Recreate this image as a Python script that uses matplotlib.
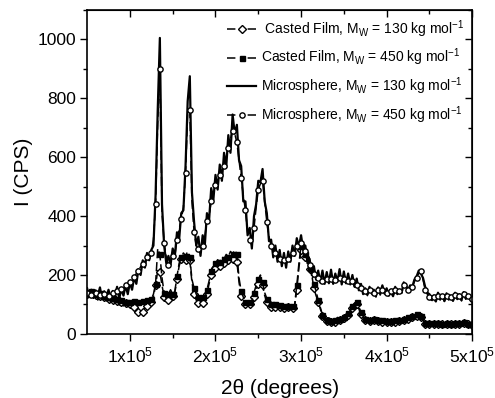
import numpy as np
import matplotlib
matplotlib.use("Agg")
import matplotlib.pyplot as plt
from matplotlib.ticker import MultipleLocator, FixedLocator

plt.rcParams['font.family'] = ['Liberation Sans', 'DejaVu Sans']
plt.rcParams['mathtext.fontset'] = 'custom'
plt.rcParams['mathtext.rm'] = 'Liberation Sans'
plt.rcParams['mathtext.it'] = 'Liberation Sans:italic'

# 2theta sampling, 50e3 .. 500e3 every 2.5e3
two_theta = np.arange(50, 502.5, 2.5) * 1e3

# casted film, Mw = 130 kg/mol (open diamonds)
cf130 = [135, 130, 138, 122, 132, 115, 128, 120, 125, 112,
         118, 108, 115, 100, 112, 98, 108, 95, 105, 92,
         100, 95, 90, 80, 75, 78, 75, 88, 95, 100,
         110, 125, 165, 215, 210, 165, 125, 110, 115, 130,
         128, 140, 185, 230, 255, 260, 250, 265, 250, 175,
         135, 115, 105, 100, 105, 108, 135, 170, 200, 215,
         225, 235, 230, 245, 240, 255, 250, 265, 255, 262,
         245, 175, 130, 112, 100, 95, 100, 105, 125, 150,
         170, 185, 165, 130, 110, 100, 92, 88, 92, 85,
         90, 85, 88, 82, 90, 85, 88, 95, 150, 225,
         285, 280, 260, 240, 220, 200, 155, 130, 110, 85,
         60, 48, 44, 50, 40, 48, 42, 52, 46, 52,
         55, 58, 65, 75, 88, 100, 102, 85, 68, 55,
         48, 40, 45, 38, 46, 40, 44, 38, 42, 36,
         42, 36, 40, 35, 42, 38, 45, 42, 48, 50,
         52, 55, 58, 60, 62, 60, 58, 45, 35, 30,
         34, 28, 32, 26, 34, 28, 32, 25, 32, 28,
         32, 26, 35, 28, 33, 25, 36, 30, 32, 28,
         30]

# casted film, Mw = 450 kg/mol (filled squares)
cf450 = [140, 125, 145, 128, 135, 120, 140, 125, 130, 118,
         125, 115, 122, 110, 118, 108, 115, 105, 110, 102,
         108, 100, 112, 102, 110, 98, 112, 105, 115, 108,
         118, 135, 170, 290, 270, 190, 140, 120, 135, 150,
         135, 145, 195, 240, 260, 275, 265, 280, 260, 185,
         155, 135, 125, 120, 125, 118, 150, 180, 215, 230,
         240, 252, 245, 262, 255, 270, 262, 280, 272, 285,
         270, 190, 145, 125, 110, 105, 108, 112, 140, 165,
         185, 200, 175, 140, 120, 108, 100, 95, 100, 92,
         98, 90, 95, 88, 96, 90, 95, 100, 165, 240,
         300, 290, 270, 250, 225, 215, 170, 145, 115, 90,
         65, 52, 48, 55, 45, 52, 48, 56, 50, 58,
         58, 62, 70, 80, 95, 105, 108, 92, 75, 60,
         52, 45, 48, 42, 50, 44, 48, 42, 46, 40,
         45, 40, 44, 38, 46, 42, 48, 45, 52, 55,
         58, 60, 62, 65, 66, 64, 62, 50, 38, 35,
         38, 32, 36, 30, 38, 32, 35, 28, 36, 30,
         35, 30, 38, 32, 36, 28, 40, 32, 35, 30,
         34]

# microsphere, Mw = 130 kg/mol (solid line, noisy)
ms130 = [155, 128, 150, 122, 148, 130, 158, 118, 145, 125,
         150, 118, 146, 125, 160, 120, 152, 130, 165, 135,
         175, 150, 192, 170, 220, 200, 250, 225, 275, 250,
         285, 300, 470, 760, 1005, 440, 300, 240, 265, 235,
         290, 265, 345, 320, 410, 420, 570, 790, 875, 480,
         380, 300, 330, 265, 335, 300, 410, 385, 495, 455,
         540, 490, 575, 520, 615, 565, 675, 615, 745, 680,
         710, 590, 570, 450, 450, 335, 360, 290, 400, 440,
         520, 515, 560, 450, 410, 315, 320, 260, 300, 245,
         285, 230, 275, 225, 280, 245, 300, 265, 325, 295,
         335, 285, 300, 240, 255, 200, 230, 185, 215, 175,
         215, 170, 210, 172, 218, 170, 205, 178, 220, 168,
         212, 172, 205, 168, 200, 160, 188, 148, 170, 135,
         155, 135, 160, 140, 150, 130, 158, 138, 165, 140,
         155, 130, 150, 128, 160, 135, 150, 140, 175, 165,
         150, 165, 160, 185, 195, 215, 205, 190, 160, 140,
         135, 115, 130, 110, 140, 118, 132, 112, 138, 120,
         130, 112, 140, 118, 135, 115, 142, 120, 132, 118,
         125]

# microsphere, Mw = 450 kg/mol (open circles)
ms450 = [140, 135, 132, 128, 138, 125, 132, 122, 135, 128,
         130, 128, 138, 135, 145, 142, 152, 155, 165, 168,
         175, 180, 192, 205, 215, 228, 238, 250, 260, 268,
         275, 320, 440, 720, 900, 411, 310, 260, 235, 250,
         265, 265, 320, 355, 390, 430, 545, 750, 760, 450,
         345, 300, 290, 285, 300, 330, 385, 400, 450, 490,
         505, 520, 540, 555, 570, 600, 630, 660, 690, 680,
         650, 590, 530, 470, 420, 345, 320, 300, 360, 430,
         490, 510, 520, 450, 380, 330, 300, 290, 275, 265,
         255, 245, 250, 240, 255, 260, 275, 285, 300, 305,
         310, 295, 280, 260, 235, 215, 205, 195, 190, 185,
         180, 175, 185, 178, 188, 175, 182, 180, 190, 175,
         185, 172, 180, 170, 178, 160, 165, 150, 155, 140,
         145, 130, 150, 135, 140, 125, 148, 132, 150, 135,
         140, 128, 145, 125, 150, 132, 145, 138, 165, 160,
         150, 160, 158, 178, 190, 205, 215, 185, 150, 135,
         125, 110, 125, 108, 130, 115, 128, 110, 130, 115,
         125, 110, 132, 115, 128, 112, 135, 118, 130, 115,
         120]

labels = [' Casted Film, M$_\\mathrm{W}$ = 130 kg mol$^{-1}$',
          'Casted Film, M$_\\mathrm{W}$ = 450 kg mol$^{-1}$',
          'Microsphere, M$_\\mathrm{W}$ = 130 kg mol$^{-1}$',
          'Microsphere, M$_\\mathrm{W}$ = 450 kg mol$^{-1}$']
xticks = [1e5, 2e5, 3e5, 4e5, 5e5]
xticklabels = ['1x10$^{5}$', '2x10$^{5}$', '3x10$^{5}$', '4x10$^{5}$', '5x10$^{5}$']
yticks = [0, 200, 400, 600, 800, 1000]

fig = plt.figure(figsize=(4.95, 3.98), dpi=100)
ax = fig.add_axes([0.176, 0.161, 0.778, 0.814])

dash = (0, (6, 2.5))
ax.plot(two_theta, cf130, color='k', ls=dash, lw=1.1, marker='D', ms=3.6,
        mfc='white', mec='k', mew=1.0, markevery=2, label=labels[0])
ax.plot(two_theta, cf450, color='k', ls=dash, lw=1.1, marker='s', ms=3.6,
        mfc='k', mec='k', markevery=2, label=labels[1])
ax.plot(two_theta, ms130, color='k', ls='-', lw=1.6, label=labels[2])
ax.plot(two_theta, ms450, color='k', ls=dash, lw=1.1, marker='o', ms=3.8,
        mfc='white', mec='k', mew=1.0, markevery=2, label=labels[3])

ax.set_xlim(5e4, 5e5)
ax.set_ylim(0, 1100)
ax.set_xticks(xticks)
ax.set_xticklabels(xticklabels)
ax.xaxis.set_minor_locator(FixedLocator([1.5e5, 2.5e5, 3.5e5, 4.5e5]))
ax.yaxis.set_major_locator(FixedLocator(yticks))
ax.yaxis.set_minor_locator(MultipleLocator(100))

ax.tick_params(which='both', direction='out', labelsize=12.5, width=1.0)
ax.tick_params(which='major', length=5, pad=3)
ax.tick_params(which='minor', length=3)
for spine in ax.spines.values():
    spine.set_linewidth(1.2)

# inward ticks on top and right, no labels
top = ax.secondary_xaxis('top')
top.set_xticks(xticks)
top.xaxis.set_minor_locator(FixedLocator([1.5e5, 2.5e5, 3.5e5, 4.5e5]))
top.tick_params(which='both', direction='in', labeltop=False, width=1.0)
top.tick_params(which='major', length=5)
top.tick_params(which='minor', length=3)
right = ax.secondary_yaxis('right')
right.set_yticks(yticks)
right.yaxis.set_minor_locator(MultipleLocator(100))
right.tick_params(which='both', direction='in', labelright=False, width=1.0)
right.tick_params(which='major', length=5)
right.tick_params(which='minor', length=3)

ax.set_xlabel('2\u03b8 (degrees)', fontsize=15, labelpad=10)
ax.set_ylabel('I (CPS)', fontsize=15, labelpad=3)

leg = ax.legend(loc='upper right', frameon=False, fontsize=10, handlelength=2.1,
                handletextpad=0.3, labelspacing=0.5, borderaxespad=0.2,
                bbox_to_anchor=(1.0, 1.0))
# legend handles look like "— o —"
for i in (0, 1, 3):
    leg.legend_handles[i].set_linestyle((0, (5.5, 8.0)))

fig.savefig('out.png', dpi=100)
